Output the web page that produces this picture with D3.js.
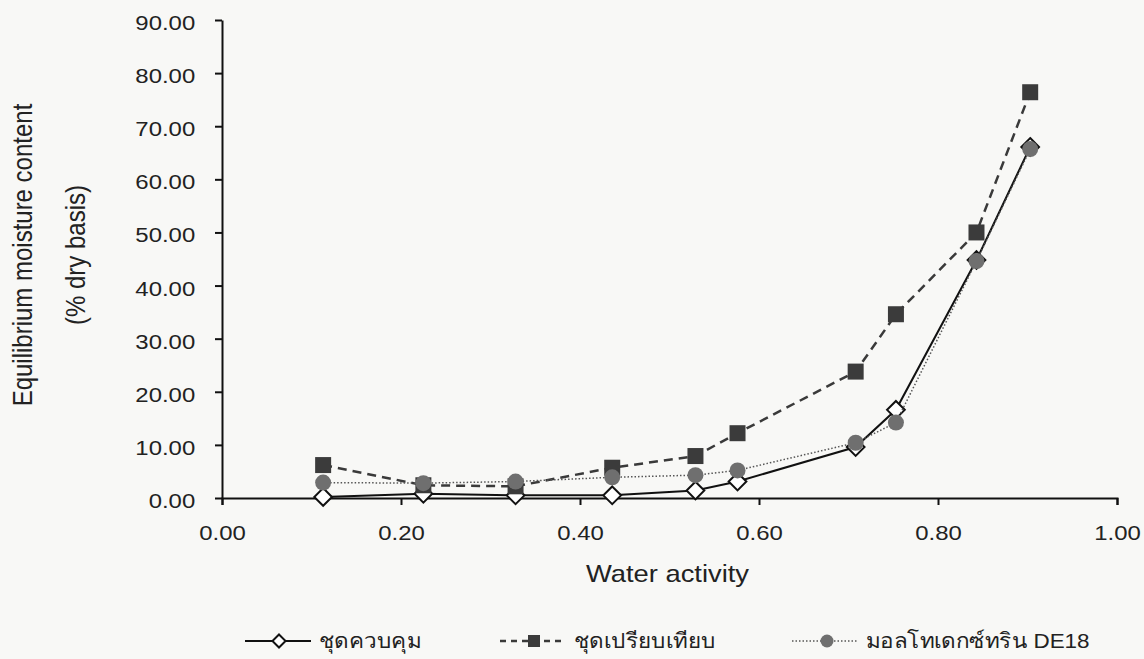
<!DOCTYPE html>
<html>
<head>
<meta charset="utf-8">
<script src="https://cdn.jsdelivr.net/npm/d3@7"></script>
<style>
  body { margin: 0; background: #f8f8f6; }
  svg { display: block; }
  text { font-family: "Liberation Sans", Arial, sans-serif; fill: #222; }
</style>
</head>
<body>
<div class="chart"></div>
<script>
// water activity of the salt solutions
var aw = [0.113, 0.225, 0.328, 0.436, 0.529, 0.576, 0.708, 0.753, 0.843, 0.903];

// equilibrium moisture content, % dry basis
var control = [0.2, 0.8, 0.5, 0.5, 1.4, 3.1, 9.6, 16.6, 44.8, 66.1];
var compare = [6.2, 2.4, 2.2, 5.7, 7.9, 12.2, 23.8, 34.6, 50.0, 76.4];
var de18 = [2.9, 2.8, 3.1, 3.9, 4.3, 5.2, 10.4, 14.2, 44.6, 65.7];

var xTicks = [0, 0.2, 0.4, 0.6, 0.8, 1.0];
var yTicks = [0, 10, 20, 30, 40, 50, 60, 70, 80, 90];

var seriesNames = ["ชุดควบคุม", "ชุดเปรียบเทียบ", "มอลโทเดกซ์ทริน DE18"];

var svgWidth = 1144;
var svgHeight = 659;

// the scanned text is a bit wider than plain Arial
var stretch = 1.14;

var margin = { top: 20, right: 27, bottom: 161, left: 222 };
var width = svgWidth - margin.left - margin.right;
var height = svgHeight - margin.top - margin.bottom;

var svg = d3.select(".chart")
    .append("svg")
    .attr("width", svgWidth)
    .attr("height", svgHeight);

var chartGroup = svg.append("g")
    .attr("transform", `translate(${margin.left}, ${margin.top})`);

var xScale = d3.scaleLinear().domain([0, 1]).range([0, width]);
var yScale = d3.scaleLinear().domain([0, 90]).range([height, 0]);

// axes
var bottomAxis = d3.axisBottom(xScale).tickValues(xTicks).tickFormat(d3.format(".2f"))
    .tickSizeInner(7).tickSizeOuter(7).tickPadding(20);
var leftAxis = d3.axisLeft(yScale).tickValues(yTicks).tickFormat(d3.format(".2f"))
    .tickSizeInner(7).tickSizeOuter(0).tickPadding(16.5);

var xAxisG = chartGroup.append("g")
    .attr("transform", `translate(0, ${height})`).call(bottomAxis);
var yAxisG = chartGroup.append("g").call(leftAxis);

[xAxisG, yAxisG].forEach(function (g) {
    g.select(".domain").attr("stroke", "#111").attr("stroke-width", 2);
    g.selectAll(".tick line").attr("stroke", "#111").attr("stroke-width", 2);
    g.selectAll(".tick text")
        .attr("font-family", "Liberation Sans, Arial, sans-serif")
        .attr("font-size", "21px")
        .attr("fill", "#222")
        .attr("transform", `scale(${stretch}, 1)`);
});
yAxisG.selectAll(".tick text").attr("dy", "0.45em");

// series
var line = d3.line()
    .x(d => xScale(d.x))
    .y(d => yScale(d.y));

function pts(values) {
    return values.map(function (v, i) { return { x: aw[i], y: v }; });
}

var diamond = d3.symbol().type(d3.symbolDiamond2).size(200);

// control - solid with open diamonds
chartGroup.append("path")
    .datum(pts(control))
    .attr("d", line)
    .attr("fill", "none")
    .attr("stroke", "#111")
    .attr("stroke-width", 2);

chartGroup.selectAll(".ctl")
    .data(pts(control))
    .enter()
    .append("path")
    .attr("class", "ctl")
    .attr("d", diamond)
    .attr("transform", d => `translate(${xScale(d.x)}, ${yScale(d.y)})`)
    .attr("fill", "#fff")
    .attr("stroke", "#111")
    .attr("stroke-width", 2);

// compare - dashed with filled squares
chartGroup.append("path")
    .datum(pts(compare))
    .attr("d", line)
    .attr("fill", "none")
    .attr("stroke", "#3a3a3a")
    .attr("stroke-width", 2.5)
    .attr("stroke-dasharray", "9,6");

chartGroup.selectAll(".cmp")
    .data(pts(compare))
    .enter()
    .append("rect")
    .attr("class", "cmp")
    .attr("x", d => xScale(d.x) - 8)
    .attr("y", d => yScale(d.y) - 8)
    .attr("width", 16)
    .attr("height", 16)
    .attr("fill", "#3b3b3b");

// DE18 - dotted with grey circles
chartGroup.append("path")
    .datum(pts(de18))
    .attr("d", line)
    .attr("fill", "none")
    .attr("stroke", "#555")
    .attr("stroke-width", 1.5)
    .attr("stroke-dasharray", "1.5,2");

chartGroup.selectAll(".de")
    .data(pts(de18))
    .enter()
    .append("circle")
    .attr("class", "de")
    .attr("cx", d => xScale(d.x))
    .attr("cy", d => yScale(d.y))
    .attr("r", 8)
    .attr("fill", "#6f6f6f");

// axis titles
chartGroup.append("text")
    .attr("transform", `translate(${width / 2 - 2}, ${height + 84}) scale(${stretch}, 1)`)
    .attr("text-anchor", "middle")
    .attr("font-size", "24px")
    .text("Water activity");

chartGroup.append("text")
    .attr("transform", `translate(${22 - margin.left}, ${height / 2 - 4}) scale(${stretch}, 1) rotate(-90)`)
    .attr("text-anchor", "middle")
    .attr("dy", "0.35em")
    .attr("font-size", "24px")
    .text("Equilibrium moisture content");

chartGroup.append("text")
    .attr("transform", `translate(${75 - margin.left}, ${height / 2 - 4}) scale(${stretch}, 1) rotate(-90)`)
    .attr("text-anchor", "middle")
    .attr("dy", "0.35em")
    .attr("font-size", "24px")
    .text("(% dry basis)");

// legend
var legendY = 641;
var legendItems = [
    { x: 245, name: seriesNames[0], dash: null, color: "#111", width: 2, marker: "diamond" },
    { x: 500, name: seriesNames[1], dash: "6,5", color: "#3a3a3a", width: 2.5, marker: "square" },
    { x: 792, name: seriesNames[2], dash: "1.5,2", color: "#555", width: 1.5, marker: "circle" }
];

var legend = svg.append("g");
legendItems.forEach(function (item) {
    var g = legend.append("g").attr("transform", `translate(${item.x}, ${legendY})`);
    g.append("line")
        .attr("x1", 0).attr("x2", 66)
        .attr("stroke", item.color)
        .attr("stroke-width", item.width)
        .attr("stroke-dasharray", item.dash);
    if (item.marker === "diamond") {
        g.append("path").attr("d", d3.symbol().type(d3.symbolDiamond2).size(110))
            .attr("transform", "translate(34, 0)")
            .attr("fill", "#fff").attr("stroke", "#111").attr("stroke-width", 2);
    } else if (item.marker === "square") {
        g.append("rect").attr("x", 28).attr("y", -6).attr("width", 12).attr("height", 12)
            .attr("fill", "#3b3b3b");
    } else {
        g.append("circle").attr("cx", 35).attr("r", 6.5).attr("fill", "#6f6f6f");
    }
    g.append("text")
        .attr("transform", "translate(74, 0) scale(1.07, 1)")
        .attr("dy", "0.35em")
        .attr("font-size", "21px")
        .attr("font-family", "'Noto Sans Thai', 'Noto Sans', 'Liberation Sans', sans-serif")
        .text(item.name);
});
</script>
</body>
</html>
